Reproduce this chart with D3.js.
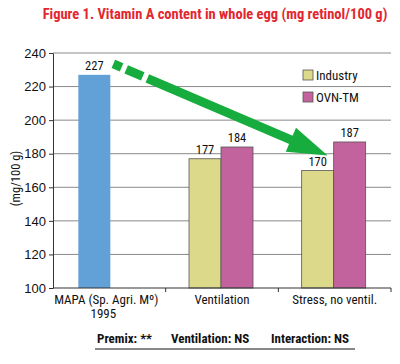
<!DOCTYPE html>
<html><head><meta charset="utf-8">
<script src="https://cdn.jsdelivr.net/npm/d3@7"></script>
<style>
body{margin:0;background:#fff;}
text{font-family:"Liberation Sans Narrow","Arial Narrow","Roboto Condensed",sans-serif;}
</style></head>
<body><svg id="c" width="400" height="364"></svg>
<script>
const categories = ["MAPA (Sp. Agri. Mº)", "Ventilation", "Stress, no ventil."];
const subLabels = ["1995", "", ""];
const mapaValues = [227, null, null];
const industryValues = [null, 177, 170];
const ovnValues = [null, 184, 187];
const seriesNames = ["Industry", "OVN-TM"];
const yTicks = [100, 120, 140, 160, 180, 200, 220, 240];
const footnotes = ["Premix: **", "Ventilation: NS", "Interaction: NS"];

const svg = d3.select("#c");
const L = 53, R = 391, T = 53, B = 288;
const x = d3.scaleBand().domain(categories).range([L, R]).paddingInner(0).paddingOuter(0);
const y = d3.scaleLinear().domain([100, 240]).range([B, T]);
const colors = {mapa:"#62a0d8", ind:"#dcd98b", ovn:"#c2639d"};

svg.append("text").attr("x", 215).attr("y", 19).attr("text-anchor","middle")
  .attr("fill","#e3262e").attr("font-weight","bold").attr("font-size",14.5)
  .text("Figure 1. Vitamin A content in whole egg (mg retinol/100 g)");

// gridlines
svg.append("g").selectAll("line").data(yTicks.slice(1)).join("line")
  .attr("x1", L).attr("x2", R).attr("y1", d=>y(d)).attr("y2", d=>y(d))
  .attr("stroke","#8a8a8a").attr("stroke-width",1);

// y axis
const ya = svg.append("g").attr("transform",`translate(${L},0)`)
  .call(d3.axisLeft(y).tickValues(yTicks).tickSize(4).tickSizeOuter(0).tickPadding(3));
ya.select(".domain").attr("stroke","#333");
ya.selectAll(".tick line").attr("stroke","#333");
ya.selectAll("text").attr("font-size",13).attr("fill","#111").style("font-family",'"Liberation Sans Narrow","Arial Narrow",sans-serif');

svg.append("text").attr("transform",`translate(20,${(T+B)/2+8}) rotate(-90)`)
  .attr("text-anchor","middle").attr("font-size",12.5).attr("fill","#111").text("(mg/100 g)");

const bw = 32;
const mapaOffset = -15;
// MAPA bar
const mapaData = categories.map((c,i)=>({c,v:mapaValues[i]})).filter(d=>d.v!=null);
const mx = d => x(d.c)+x.bandwidth()/2 - bw/2 + mapaOffset;
svg.append("g").selectAll("rect").data(mapaData)
  .join("rect").attr("x", mx).attr("width",bw)
  .attr("y", d=>y(d.v)).attr("height", d=>B - y(d.v)).attr("fill",colors.mapa);

const grouped = [];
categories.forEach((c,i)=>{
  if(industryValues[i]!=null) grouped.push({c,v:industryValues[i],k:0});
  if(ovnValues[i]!=null) grouped.push({c,v:ovnValues[i],k:1});
});
const gx = d => x(d.c) + x.bandwidth()/2 - bw + d.k*bw - 1;
svg.append("g").selectAll("rect").data(grouped).join("rect")
  .attr("x", gx).attr("width", bw).attr("y", d=>y(d.v)).attr("height", d=>B-y(d.v))
  .attr("fill", d=>d.k?colors.ovn:colors.ind).attr("stroke","#555").attr("stroke-width",0.8);

// value labels
const labs = mapaData.map(d=>({c:d.c,v:d.v,cx:mx(d)+bw/2}))
  .concat(grouped.map(d=>({c:d.c,v:d.v,cx:gx(d)+bw/2})));
svg.append("g").selectAll("text").data(labs).join("text")
  .attr("x", d=>d.cx).attr("y", d=>y(d.v)-5).attr("text-anchor","middle")
  .attr("font-size",12.5).attr("fill","#111").text(d=>d.v);

// x axis
svg.append("line").attr("x1",L).attr("x2",R).attr("y1",B).attr("y2",B).attr("stroke","#333");
svg.append("g").selectAll("line").data(categories).join("line")
  .attr("x1", d=>x(d)+x.bandwidth()).attr("x2", d=>x(d)+x.bandwidth())
  .attr("y1",B).attr("y2",B+4).attr("stroke","#333");
svg.append("g").selectAll("text").data(categories).join("text")
  .attr("x", (d,i)=>x(d)+x.bandwidth()/2 + (i==0?-3:0)).attr("y", B+16).attr("text-anchor","middle")
  .attr("font-size",13).attr("fill","#111").text(d=>d);
svg.append("g").selectAll("text").data(categories.map((c,i)=>({c,s:subLabels[i]})).filter(d=>d.s))
  .join("text").attr("x", d=>x(d.c)+x.bandwidth()/2-6).attr("y", B+30).attr("text-anchor","middle")
  .attr("font-size",13).attr("fill","#111").text(d=>d.s);

// legend
const lg = svg.append("g").attr("transform","translate(303,70)");
seriesNames.forEach((n,i)=>{
  lg.append("rect").attr("x",0).attr("y",i*22).attr("width",10).attr("height",10)
    .attr("fill", i?colors.ovn:colors.ind).attr("stroke","#555").attr("stroke-width",0.8);
  lg.append("text").attr("x",13).attr("y",i*22+10).attr("font-size",13).attr("fill","#111").text(n);
});

// green arrow from MAPA value to Stress industry value
const x0 = mx(mapaData[0]) + bw + 3, y0 = y(mapaValues[0]) - 11;
const stressInd = grouped.find(d=>d.c===categories[2] && d.k===0);
const x1 = gx(stressInd) + bw - 6, y1 = y(stressInd.v) - 15;
const ang = Math.atan2(y1-y0, x1-x0);
const headLen = 40, headW = 13;
const bx = x1 - headLen*Math.cos(ang), by = y1 - headLen*Math.sin(ang);
svg.append("line").attr("x1",x0).attr("y1",y0).attr("x2",bx+2*Math.cos(ang)).attr("y2",by+2*Math.sin(ang))
  .attr("stroke","#17ad3e").attr("stroke-width",9).attr("stroke-dasharray","9,5,18,5,1000");
const px = -Math.sin(ang), py = Math.cos(ang);
svg.append("path").attr("d", d3.line()([[x1,y1],[bx+px*headW,by+py*headW],[bx-px*headW,by-py*headW]]) + "Z")
  .attr("fill","#17ad3e");

// footnotes
const fx = [97, 171, 271];
svg.append("g").selectAll("text").data(footnotes).join("text")
  .attr("x",(d,i)=>fx[i]).attr("y",343).attr("font-size",13).attr("font-weight","bold")
  .attr("fill","#111").text(d=>d);
svg.append("line").attr("x1",95).attr("x2",355).attr("y1",349).attr("y2",349).attr("stroke","#111").attr("stroke-width",1.2);
</script></body></html>
